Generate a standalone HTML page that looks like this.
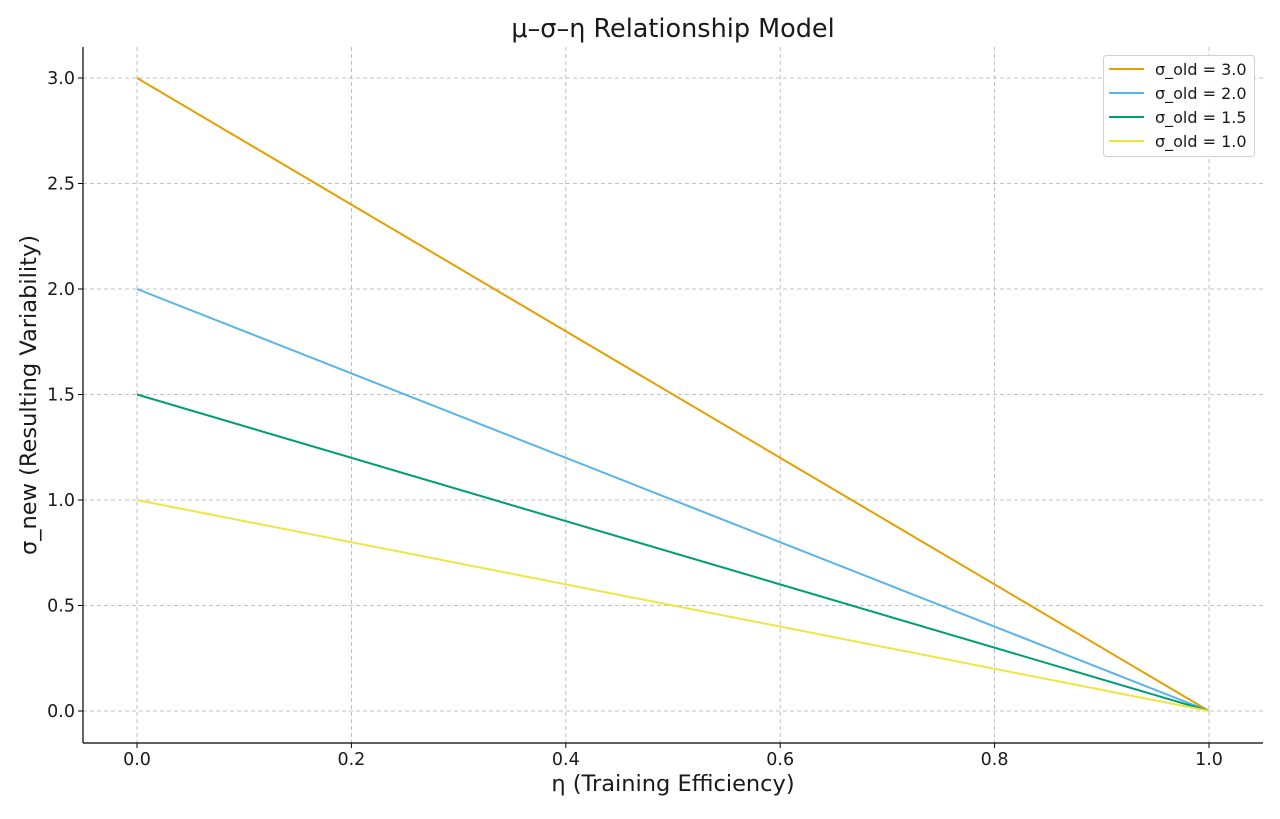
<!DOCTYPE html>
<html><head><meta charset="utf-8"><style>
body{margin:0;background:#fff;}
svg text{font-family:"DejaVu Sans","Liberation Sans",sans-serif;fill:#1a1a1a;}
</style></head><body>
<svg id="chart" width="1280" height="814" xmlns="http://www.w3.org/2000/svg"></svg>
<script>
const xTicks=[0,0.2,0.4,0.6,0.8,1.0];
const yTicks=[0,0.5,1.0,1.5,2.0,2.5,3.0];
const etaValues=[0,1];
const sigmaOld=[3.0,2.0,1.5,1.0];
const seriesColors=['#E69F00','#56B4E9','#009E73','#F0E442'];
const seriesLabels=['σ_old = 3.0','σ_old = 2.0','σ_old = 1.5','σ_old = 1.0'];
const svg=document.getElementById('chart');
const NS='http://www.w3.org/2000/svg';
function X(v){return 137+v*(1209-137);}
function Y(v){return 711-v*(711-78)/3;}
function mk(tag,attrs,txt){const e=document.createElementNS(NS,tag);for(const k in attrs)e.setAttribute(k,attrs[k]);if(txt!==undefined)e.textContent=txt;svg.appendChild(e);return e;}
let e;
xTicks.forEach(t=>{
 e=mk('line',{x1:X(t),x2:X(t),y1:47,y2:743,stroke:'#b0b0b0','stroke-dasharray':'4,3','stroke-width':0.8});
 
 
 mk('line',{x1:X(t),x2:X(t),y1:743,y2:748,stroke:'#000'});
 e=mk('text',{x:X(t),y:765,'font-size':17.5,'text-anchor':'middle'},t.toFixed(1));
 
 
});
yTicks.forEach(t=>{
 e=mk('line',{x1:83,x2:1263,y1:Y(t),y2:Y(t),stroke:'#b0b0b0','stroke-dasharray':'4,3','stroke-width':0.8});
 
 
 mk('line',{x1:78,x2:83,y1:Y(t),y2:Y(t),stroke:'#000'});
 e=mk('text',{x:75,y:Y(t)+6,'font-size':17.5,'text-anchor':'end'},t.toFixed(1));
 
 
});
e=mk('line',{x1:83,x2:83,y1:47,y2:743,stroke:'#000','stroke-width':1.2});


e=mk('line',{x1:83,x2:1263,y1:743,y2:743,stroke:'#000','stroke-width':1.2});


sigmaOld.forEach((s,i)=>{
 const pts=etaValues.map(n=>X(n)+','+Y(s*(1-n))).join(' ');
 e=mk('polyline',{points:pts,fill:'none',stroke:seriesColors[i],'stroke-width':2});
 
 
});
e=mk('text',{x:673,y:37,'font-size':25.5,'text-anchor':'middle'},'μ–σ–η Relationship Model');


e=mk('text',{x:673,y:791,'font-size':22.5,'text-anchor':'middle'},'η (Training Efficiency)');


e=mk('text',{x:0,y:0,'font-size':22.5,'text-anchor':'middle',transform:'translate(36,395) rotate(-90)'},'σ_new (Resulting Variability)');


e=mk('rect',{x:1103.5,y:55.5,width:151,height:101,rx:3,fill:'#fff','fill-opacity':0.9,stroke:'#d0d0d0'});


seriesLabels.forEach((l,i)=>{
 const y=69+i*24;
 mk('line',{x1:1109,x2:1144,y1:y,y2:y,stroke:seriesColors[i],'stroke-width':2});
 e=mk('text',{x:1155,y:y+6,'font-size':16},l);
 
 
});
</script>
</body></html>
